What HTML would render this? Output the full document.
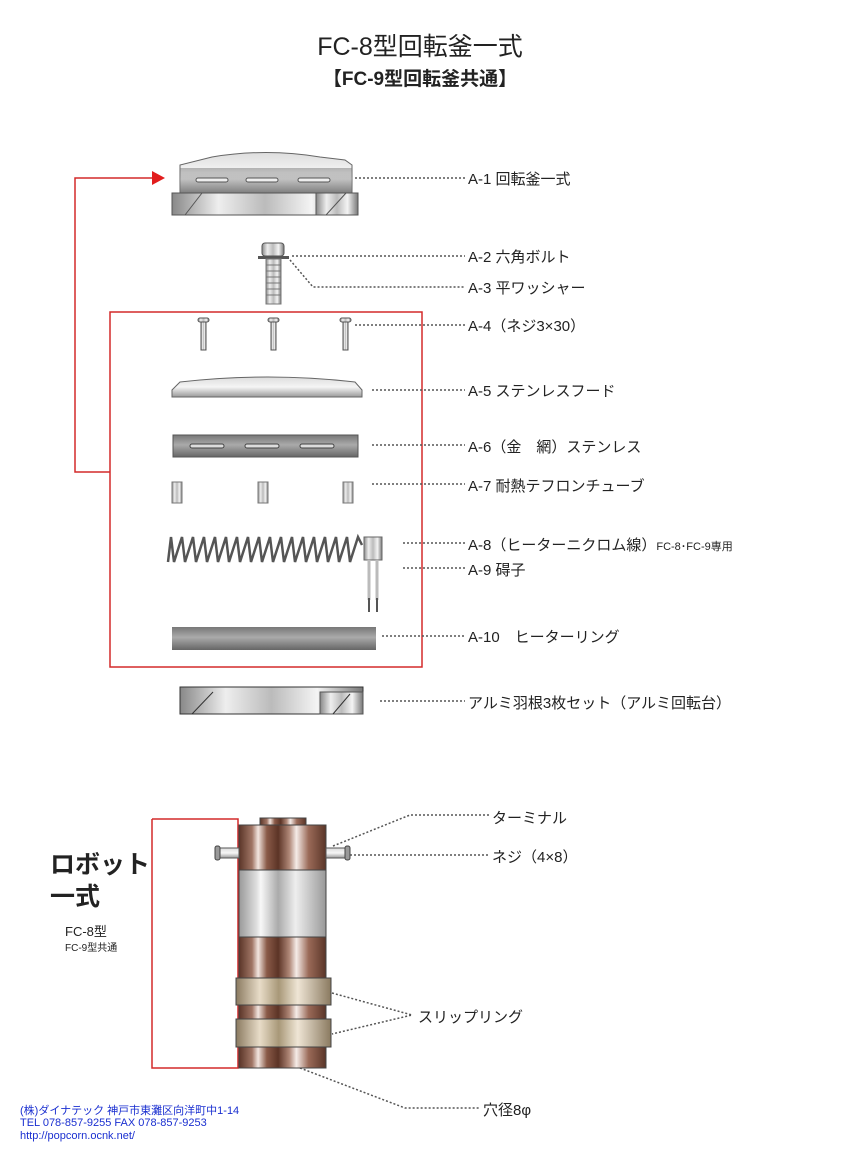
<!DOCTYPE html>
<html><head><meta charset="utf-8"><style>
body{margin:0;background:#fff}
svg{display:block}
text{font-family:"Liberation Sans","Noto Sans CJK JP",sans-serif;fill:#222}
text.blue{fill:#1a2fd0}
</style></head><body>
<svg width="843" height="1158" viewBox="0 0 843 1158">
<defs>
<linearGradient id="met" x1="0" x2="1"><stop offset="0" stop-color="#888"/><stop offset=".25" stop-color="#eee"/><stop offset=".5" stop-color="#bbb"/><stop offset=".75" stop-color="#f4f4f4"/><stop offset="1" stop-color="#777"/></linearGradient>
<linearGradient id="metv" x1="0" y1="0" x2="0" y2="1"><stop offset="0" stop-color="#ddd"/><stop offset=".5" stop-color="#f5f5f5"/><stop offset="1" stop-color="#999"/></linearGradient>
<linearGradient id="gray" x1="0" y1="0" x2="0" y2="1"><stop offset="0" stop-color="#777"/><stop offset=".45" stop-color="#aaa"/><stop offset="1" stop-color="#666"/></linearGradient>
<linearGradient id="brown" x1="0" x2="1"><stop offset="0" stop-color="#5a3528"/><stop offset=".15" stop-color="#a07565"/><stop offset=".22" stop-color="#f3e6e0"/><stop offset=".32" stop-color="#8a5a48"/><stop offset=".45" stop-color="#5c3426"/><stop offset=".58" stop-color="#b08878"/><stop offset=".66" stop-color="#f5ece8"/><stop offset=".8" stop-color="#9a6a58"/><stop offset="1" stop-color="#5a3528"/></linearGradient>
<linearGradient id="silv" x1="0" x2="1"><stop offset="0" stop-color="#999"/><stop offset=".2" stop-color="#ddd"/><stop offset=".25" stop-color="#f8f8f8"/><stop offset=".45" stop-color="#aaa"/><stop offset=".65" stop-color="#eee"/><stop offset="1" stop-color="#999"/></linearGradient>
<linearGradient id="tan" x1="0" x2="1"><stop offset="0" stop-color="#8a7a60"/><stop offset=".25" stop-color="#e8dcc8"/><stop offset=".45" stop-color="#a89878"/><stop offset=".65" stop-color="#efe5d5"/><stop offset="1" stop-color="#8a7a60"/></linearGradient>
</defs>

<text x="420" y="55" font-size="25" text-anchor="middle">FC-8型回転釜一式</text>
<text x="420" y="85" font-size="19" font-weight="bold" text-anchor="middle">【FC-9型回転釜共通】</text>

<polyline points="110,472 75,472 75,178 158,178" fill="none" stroke="#d42a2a" stroke-width="1.5"/>
<polygon points="165,178 152,171 152,185" fill="#e21d1d"/>
<rect x="110" y="312" width="312" height="355" fill="none" stroke="#d42a2a" stroke-width="1.5"/>

<path d="M212,157 Q266,148 320,157 L345,160 L352,165 L352,193 L180,193 L180,165 Z" fill="url(#metv)" stroke="#666"/>
<rect x="180" y="168" width="172" height="25" fill="url(#gray)" opacity=".5"/>
<g fill="#eee" stroke="#555"><rect x="196" y="178" width="32" height="4" rx="2"/><rect x="246" y="178" width="32" height="4" rx="2"/><rect x="298" y="178" width="32" height="4" rx="2"/></g>
<rect x="172" y="193" width="186" height="22" fill="url(#met)" stroke="#555"/>
<line x1="185" y1="215" x2="202" y2="193" stroke="#555"/>
<rect x="316" y="193" width="42" height="22" fill="url(#met)" stroke="#555"/>
<line x1="326" y1="215" x2="346" y2="193" stroke="#555"/>

<rect x="262" y="243" width="22" height="13" rx="3" fill="url(#met)" stroke="#555"/>
<rect x="258" y="256" width="31" height="3" fill="#555"/>
<rect x="266" y="259" width="15" height="45" fill="url(#met)" stroke="#777"/>
<g stroke="#777"><line x1="266" y1="265" x2="281" y2="265"/><line x1="266" y1="271" x2="281" y2="271"/><line x1="266" y1="277" x2="281" y2="277"/><line x1="266" y1="283" x2="281" y2="283"/><line x1="266" y1="289" x2="281" y2="289"/><line x1="266" y1="295" x2="281" y2="295"/></g>

<g fill="url(#met)" stroke="#555">
<rect x="198" y="318" width="11" height="4" rx="2"/><rect x="201" y="322" width="5" height="28"/>
<rect x="268" y="318" width="11" height="4" rx="2"/><rect x="271" y="322" width="5" height="28"/>
<rect x="340" y="318" width="11" height="4" rx="2"/><rect x="343" y="322" width="5" height="28"/>
</g>
<path d="M180,382 Q268,372 355,382 L362,390 L362,397 L172,397 L172,390 Z" fill="url(#metv)" stroke="#666"/>
<rect x="173" y="435" width="185" height="22" fill="url(#gray)" stroke="#555"/>
<g fill="#ddd" stroke="#444"><rect x="190" y="444" width="34" height="4" rx="2"/><rect x="245" y="444" width="34" height="4" rx="2"/><rect x="300" y="444" width="34" height="4" rx="2"/></g>
<g fill="url(#met)" stroke="#777"><rect x="172" y="482" width="10" height="21"/><rect x="258" y="482" width="10" height="21"/><rect x="343" y="482" width="10" height="21"/></g>
<polyline points="168,562 171,537 174,562 182,537 185,562 193,537 196,562 204,537 207,562 215,537 218,562 226,537 229,562 237,537 240,562 248,537 251,562 259,537 262,562 270,537 273,562 281,537 284,562 292,537 295,562 303,537 306,562 314,537 317,562 325,537 328,562 336,537 339,562 347,537 350,562 358,537 362,545" fill="none" stroke="#555" stroke-width="2.5"/>
<rect x="364" y="537" width="18" height="23" fill="url(#met)" stroke="#666"/>
<g stroke="#bbb" stroke-width="3"><line x1="369" y1="560" x2="369" y2="600"/><line x1="377" y1="560" x2="377" y2="600"/></g>
<g stroke="#555" stroke-width="2"><line x1="369" y1="598" x2="369" y2="612"/><line x1="377" y1="598" x2="377" y2="612"/></g>
<rect x="172" y="627" width="204" height="23" fill="url(#gray)"/>
<rect x="180" y="687" width="183" height="27" fill="url(#met)" stroke="#333"/>
<line x1="192" y1="714" x2="213" y2="692" stroke="#333"/>
<rect x="320" y="692" width="43" height="22" fill="url(#met)" stroke="#555"/>
<line x1="333" y1="714" x2="350" y2="694" stroke="#333"/>

<g stroke="#555" stroke-width="1.5" stroke-dasharray="2,2" fill="none">
<line x1="355" y1="178" x2="465" y2="178"/>
<line x1="292" y1="256" x2="465" y2="256"/>
<polyline points="290,260 313,287 465,287"/>
<line x1="355" y1="325" x2="465" y2="325"/>
<line x1="372" y1="390" x2="465" y2="390"/>
<line x1="372" y1="445" x2="465" y2="445"/>
<line x1="372" y1="484" x2="465" y2="484"/>
<line x1="403" y1="543" x2="465" y2="543"/>
<line x1="403" y1="568" x2="465" y2="568"/>
<line x1="382" y1="636" x2="465" y2="636"/>
<line x1="380" y1="701" x2="465" y2="701"/>
<polyline points="333,846 410,815 490,815"/>
<line x1="346" y1="855" x2="490" y2="855"/>
<polyline points="332,993 412,1015 332,1034"/>
<polyline points="300,1068 405,1108 480,1108"/>
</g>

<g font-size="15">
<text x="468" y="184">A-1 回転釜一式</text>
<text x="468" y="262">A-2 六角ボルト</text>
<text x="468" y="293">A-3 平ワッシャー</text>
<text x="468" y="331">A-4（ネジ3×30）</text>
<text x="468" y="396">A-5 ステンレスフード</text>
<text x="468" y="452">A-6（金　網）ステンレス</text>
<text x="468" y="491">A-7 耐熱テフロンチューブ</text>
<text x="468" y="550">A-8（ヒーターニクロム線）<tspan font-size="11">FC-8･FC-9専用</tspan></text>
<text x="468" y="575">A-9 碍子</text>
<text x="468" y="642">A-10　ヒーターリング</text>
<text x="468" y="708">アルミ羽根3枚セット（アルミ回転台）</text>
<text x="492" y="823">ターミナル</text>
<text x="492" y="862">ネジ（4×8）</text>
<text x="418" y="1022">スリップリング</text>
<text x="483" y="1115">穴径8φ</text>
</g>

<polyline points="152,819 238,819 238,1068 152,1068 152,819" fill="none" stroke="#d42a2a" stroke-width="1.5"/>
<rect x="260" y="818" width="46" height="7" fill="url(#brown)" stroke="#444"/>
<rect x="239" y="825" width="87" height="243" fill="url(#brown)" stroke="#444"/>
<rect x="239" y="870" width="87" height="67" fill="url(#silv)" stroke="#444"/>
<rect x="236" y="978" width="95" height="27" fill="url(#tan)" stroke="#444"/>
<rect x="236" y="1019" width="95" height="28" fill="url(#tan)" stroke="#444"/>
<rect x="220" y="848" width="19" height="10" fill="url(#metv)" stroke="#555"/>
<rect x="215" y="846" width="5" height="14" rx="2" fill="#999" stroke="#444"/>
<rect x="326" y="848" width="19" height="10" fill="url(#metv)" stroke="#555"/>
<rect x="345" y="846" width="5" height="14" rx="2" fill="#999" stroke="#444"/>

<text x="50" y="873" font-size="25" font-weight="bold">ロボット</text>
<text x="50" y="905" font-size="25" font-weight="bold">一式</text>
<text x="65" y="936" font-size="13">FC-8型</text>
<text x="65" y="951" font-size="10">FC-9型共通</text>

<text class="blue" x="20" y="1114" font-size="11">(株)ダイナテック 神戸市東灘区向洋町中1-14</text>
<text class="blue" x="20" y="1126" font-size="11">TEL 078-857-9255  FAX 078-857-9253</text>
<text class="blue" x="20" y="1139" font-size="11">http://popcorn.ocnk.net/</text>
</svg>
</body></html>
